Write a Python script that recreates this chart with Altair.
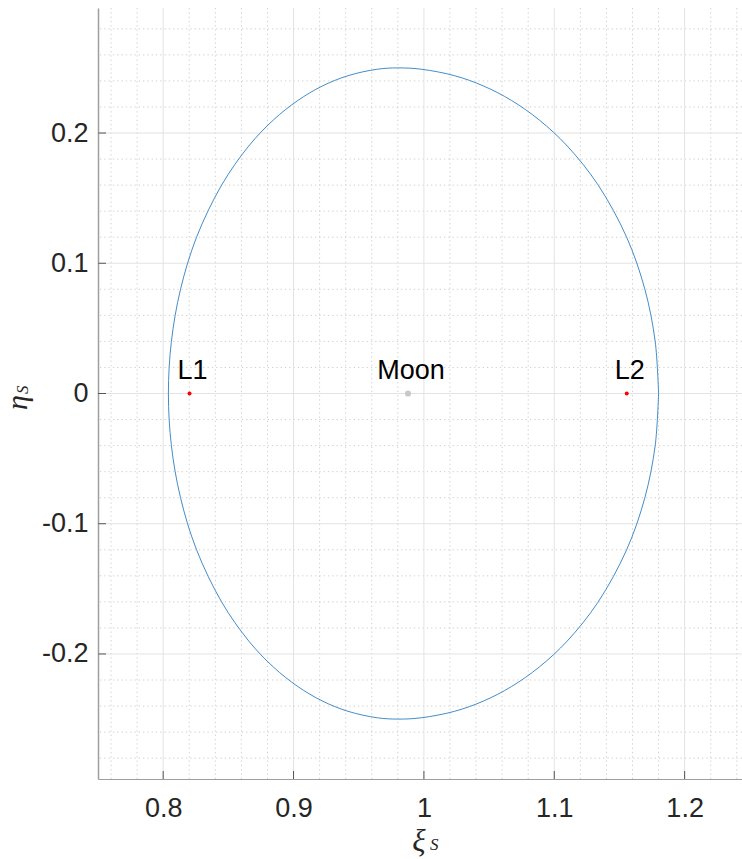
import altair as alt
import pandas as pd

# Closed curve around the Moon (xi_S, eta_S): upper half from the right-most point over the top,
# then the lower half from the left back to the right-most point
xi_upper = [1.1800, 1.1774, 1.1695, 1.1555, 1.1337, 1.1100, 1.0885, 1.0672, 1.0460, 1.0236,
            0.9979, 0.9800, 0.9643, 0.9417, 0.9219, 0.9033, 0.8845, 0.8656, 0.8448, 0.8256,
            0.8133, 0.8063, 0.8040]
eta_upper = [0.0, 0.04, 0.08, 0.12, 0.16, 0.19, 0.21, 0.225, 0.236, 0.244,
             0.249, 0.250, 0.249, 0.244, 0.236, 0.225, 0.21, 0.19, 0.16, 0.12,
             0.08, 0.04, 0.0]
xi_lower = [0.8063, 0.8133, 0.8256, 0.8448, 0.8656, 0.8845, 0.9033, 0.9219, 0.9417, 0.9643,
            0.9800, 0.9979, 1.0236, 1.0460, 1.0672, 1.0885, 1.1100, 1.1337, 1.1555, 1.1695,
            1.1774, 1.1800]
eta_lower = [-0.04, -0.08, -0.12, -0.16, -0.19, -0.21, -0.225, -0.236, -0.244, -0.249,
             -0.250, -0.249, -0.244, -0.236, -0.225, -0.21, -0.19, -0.16, -0.12, -0.08,
             -0.04, 0.0]

# Libration points and the Moon
lib_names = ["L1", "L2"]
lib_xi = [0.8202, 1.1556]
lib_eta = [0.0, 0.0]
moon_name = ["Moon"]
moon_xi = [0.9878]
moon_eta = [0.0]

# Axis ticks and grid positions
x_major = [0.8, 0.9, 1.0, 1.1, 1.2]
y_major = [-0.2, -0.1, 0.0, 0.1, 0.2]
x_minor = [0.76, 0.78, 0.82, 0.84, 0.86, 0.88, 0.92, 0.94, 0.96, 0.98,
           1.02, 1.04, 1.06, 1.08, 1.12, 1.14, 1.16, 1.18, 1.22, 1.24]
y_minor = [-0.28, -0.26, -0.24, -0.22, -0.18, -0.16, -0.14, -0.12, -0.08, -0.06, -0.04, -0.02,
           0.02, 0.04, 0.06, 0.08, 0.12, 0.14, 0.16, 0.18, 0.22, 0.24, 0.26, 0.28]

W, H = 644, 771
FONT = "Liberation Sans"
SERIF = "Liberation Serif"

xs = alt.Scale(domain=[0.75, 1.244], nice=False, zero=False)
ys = alt.Scale(domain=[-0.296, 0.296], nice=False, zero=False)

x_axis = alt.Axis(
    values=x_major, labelExpr="'' + datum.value", title=None, grid=False,
    ticks=False, tickSize=0, labelPadding=16, labelFontSize=27, labelFont=FONT,
    labelColor="#262626", domainColor="#9e9e9e", domainWidth=1.2)
y_axis = alt.Axis(
    values=y_major, labelExpr="'' + datum.value", title=None, grid=False,
    ticks=False, tickSize=0, labelPadding=10, labelFontSize=27, labelFont=FONT,
    labelColor="#262626", domainColor="#9e9e9e", domainWidth=1.5)

xi_all = xi_upper + xi_lower
eta_all = eta_upper + eta_lower
curve_df = pd.DataFrame({"xi": xi_all, "eta": eta_all, "k": list(range(len(xi_all)))})
lib_df = pd.DataFrame({"name": lib_names, "xi": lib_xi, "eta": lib_eta})
moon_df = pd.DataFrame({"name": moon_name, "xi": moon_xi, "eta": moon_eta})
labels_df = pd.concat([lib_df, moon_df], ignore_index=True)


def X(field):
    return alt.X(field, scale=xs, axis=x_axis)


def Y(field):
    return alt.Y(field, scale=ys, axis=y_axis)


grid_minor_x = alt.Chart(pd.DataFrame({"v": x_minor})).mark_rule(
    color="#cfcfcf", strokeWidth=1, strokeDash=[1.3, 3]
).encode(x=X("v:Q"))
grid_minor_y = alt.Chart(pd.DataFrame({"v": y_minor})).mark_rule(
    color="#cfcfcf", strokeWidth=1, strokeDash=[1.3, 3]
).encode(y=Y("v:Q"))
grid_major_x = alt.Chart(pd.DataFrame({"v": x_major})).mark_rule(
    color="#e3e3e3", strokeWidth=1
).encode(x=X("v:Q"))
grid_major_y = alt.Chart(pd.DataFrame({"v": y_major})).mark_rule(
    color="#e3e3e3", strokeWidth=1
).encode(y=Y("v:Q"))

# inward tick marks
ticks_x = alt.Chart(pd.DataFrame({"v": x_major})).mark_rule(
    color="#555555", strokeWidth=1
).encode(x=X("v:Q"), y=alt.value(H), y2=alt.value(H - 8))
ticks_y = alt.Chart(pd.DataFrame({"v": y_major})).mark_rule(
    color="#555555", strokeWidth=1
).encode(y=Y("v:Q"), x=alt.value(0), x2=alt.value(8))

curve = alt.Chart(curve_df).mark_line(
    color="#2f7fc0", strokeWidth=0.9, interpolate="catmull-rom"
).encode(x=X("xi:Q"), y=Y("eta:Q"), order="k:Q")

lib_pts = alt.Chart(lib_df).mark_circle(color="#ff0000", size=16, opacity=1).encode(
    x=X("xi:Q"), y=Y("eta:Q"))
moon_pt = alt.Chart(moon_df).mark_circle(color="#c8c8c8", size=38, opacity=1).encode(
    x=X("xi:Q"), y=Y("eta:Q"))

pt_labels = alt.Chart(labels_df).mark_text(
    font=FONT, fontSize=27, color="#000000", align="center", baseline="alphabetic", dy=-15, dx=3
).encode(x=X("xi:Q"), y=Y("eta:Q"), text="name:N")

# axis titles: italic symbol with a smaller subscript
xt_main = alt.Chart(pd.DataFrame({"t": ["ξ"]})).mark_text(
    font=SERIF, fontStyle="italic", fontSize=31, align="center", baseline="alphabetic", color="#262626"
).encode(x=alt.value(321), y=alt.value(843), text="t:N")
xt_sub = alt.Chart(pd.DataFrame({"t": ["S"]})).mark_text(
    font=SERIF, fontStyle="italic", fontSize=17, align="left", baseline="alphabetic", color="#262626"
).encode(x=alt.value(332), y=alt.value(842), text="t:N")
yt_main = alt.Chart(pd.DataFrame({"t": ["η"]})).mark_text(
    font=SERIF, fontStyle="italic", fontSize=30, align="left", baseline="alphabetic", angle=270, color="#262626"
).encode(x=alt.value(-71), y=alt.value(402), text="t:N")
yt_sub = alt.Chart(pd.DataFrame({"t": ["S"]})).mark_text(
    font=SERIF, fontStyle="italic", fontSize=17, align="left", baseline="alphabetic", angle=270, color="#262626"
).encode(x=alt.value(-70), y=alt.value(386), text="t:N")

chart = alt.layer(
    grid_minor_x, grid_minor_y, grid_major_x, grid_major_y,
    curve, ticks_x, ticks_y, moon_pt, lib_pts, pt_labels,
    xt_main, xt_sub, yt_main, yt_sub,
).properties(
    width=W, height=H,
    autosize=alt.AutoSizeParams(type="none"),
    padding={"left": 98, "top": 8, "right": 0, "bottom": 80},
    background="white",
).configure_view(stroke=None)

chart.save("out.html", embed_options={"renderer": "svg", "actions": False})
